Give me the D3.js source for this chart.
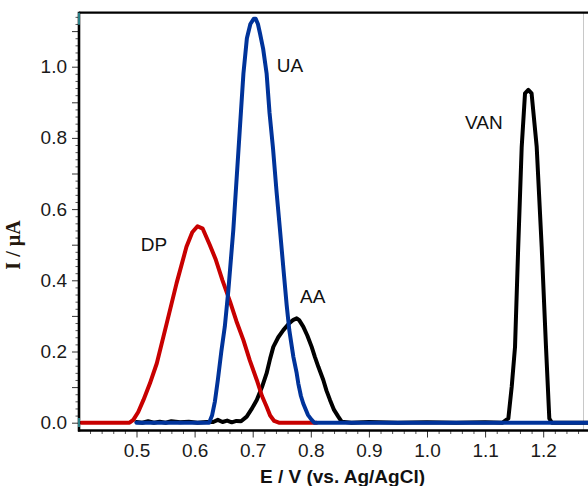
<!DOCTYPE html>
<html>
<head>
<meta charset="utf-8">
<script src="https://cdn.jsdelivr.net/npm/d3@7"></script>
<style>
  html, body { margin: 0; padding: 0; background: #fff; }
  svg { display: block; }
  .tick-label { font-family: "Liberation Sans", Arial, sans-serif; font-size: 19px; fill: #1a1a1a; }
</style>
</head>
<body>
<svg id="chart" width="588" height="486"></svg>
<script>
// Differential pulse voltammograms: potential E (V vs. Ag/AgCl) and current I (µA)

// DP (red)
const dpE = [0.405, 0.45, 0.488, 0.4945, 0.503, 0.512, 0.523, 0.535, 0.552, 0.569, 0.586, 0.596, 0.605, 0.614,
             0.626, 0.636, 0.648, 0.661, 0.672, 0.684, 0.695, 0.707, 0.716, 0.724, 0.730, 0.737, 0.745, 0.780, 0.810];
const dpI = [0.000, 0.000, 0.000, 0.008, 0.030, 0.064, 0.110, 0.167, 0.279, 0.392, 0.494, 0.535, 0.552, 0.545,
             0.500, 0.460, 0.400, 0.340, 0.285, 0.232, 0.175, 0.120, 0.075, 0.045, 0.020, 0.005, 0.000, 0.000, 0.000];

// UA (blue)
const uaE = [0.500, 0.550, 0.600, 0.625, 0.630, 0.635, 0.640, 0.646, 0.652, 0.658, 0.6666, 0.6777, 0.684, 0.690,
             0.696, 0.702, 0.705, 0.709, 0.7125, 0.718, 0.724, 0.729, 0.735, 0.741, 0.747, 0.753, 0.7585, 0.763,
             0.770, 0.7757, 0.7785, 0.783, 0.787, 0.795, 0.8015, 0.806, 0.900, 1.000, 1.100, 1.200, 1.280];
const uaI = [0.000, 0.000, 0.000, 0.000, 0.020, 0.060, 0.120, 0.200, 0.270, 0.370, 0.541, 0.821, 0.980, 1.080,
             1.120, 1.135, 1.135, 1.120, 1.094, 1.050, 0.980, 0.870, 0.770, 0.650, 0.541, 0.430, 0.330, 0.260,
             0.185, 0.139, 0.110, 0.075, 0.054, 0.022, 0.008, 0.000, 0.000, 0.000, 0.000, 0.000, 0.000];

// AA and VAN (black, one scan)
const bkE = [0.500, 0.510, 0.520, 0.530, 0.540, 0.550, 0.560, 0.575, 0.590, 0.605, 0.620, 0.632, 0.640, 0.648,
             0.656, 0.664, 0.672, 0.680, 0.6897, 0.698, 0.707, 0.716, 0.724, 0.730, 0.7355, 0.744, 0.7527, 0.762,
             0.770, 0.7757, 0.780, 0.787, 0.794, 0.8015, 0.807, 0.813, 0.8215, 0.827, 0.833, 0.840, 0.8473, 0.853,
             0.870, 0.900, 0.950, 1.000, 1.050, 1.100, 1.130, 1.140, 1.1458, 1.1515, 1.157, 1.163, 1.1687, 1.1744,
             1.180, 1.1888, 1.1974, 1.2048, 1.2105, 1.215, 1.280];
const bkI = [0.002, 0.000, 0.004, 0.000, 0.003, 0.000, 0.004, 0.001, 0.003, 0.000, 0.002, 0.002, 0.008, 0.002,
             0.006, 0.001, 0.005, 0.004, 0.017, 0.038, 0.064, 0.100, 0.139, 0.180, 0.213, 0.240, 0.260, 0.278,
             0.289, 0.293, 0.288, 0.270, 0.245, 0.213, 0.185, 0.157, 0.120, 0.090, 0.064, 0.036, 0.017, 0.003,
             0.000, 0.002, 0.000, 0.001, 0.000, 0.001, 0.000, 0.012, 0.101, 0.213, 0.494, 0.775, 0.925, 0.935,
             0.925, 0.775, 0.494, 0.213, 0.012, 0.000, 0.000];

// Axis ticks
const xTickLabels = [0.5, 0.6, 0.7, 0.8, 0.9, 1.0, 1.1, 1.2];
const yTickLabels = [0.0, 0.2, 0.4, 0.6, 0.8, 1.0];

// Peak labels, placed in data units (E, I)
const peakNames = ["DP", "UA", "AA", "VAN"];
const peakLabelE = [0.5072, 0.7413, 0.7814, 1.0654];
const peakLabelI = [0.4837, 0.9865, 0.3354, 0.8264];

const svg = d3.select("#chart");

const x = d3.scaleLinear().domain([0.4, 1.28]).range([78.4, 589.68]);
const y = d3.scaleLinear().domain([0, 1]).range([422.7, 66.7]);

const plotLeft = 79, plotTop = 12.7, plotRight = 588, plotBottom = 430.5;

svg.append("defs").append("clipPath").attr("id", "plot-clip")
  .append("rect")
  .attr("x", plotLeft).attr("y", plotTop)
  .attr("width", plotRight - plotLeft).attr("height", plotBottom - plotTop - 1);

// Tick positions
const xMinor = d3.range(0.42, 1.281, 0.02).filter(v => Math.abs(v * 10 - Math.round(v * 10)) > 1e-6);
const xMajor = d3.range(0.5, 1.281, 0.1);
const yMinor = d3.range(0, 1.151, 0.02).filter(v => Math.abs(v * 10 - Math.round(v * 10)) > 1e-6);
const yMajor = d3.range(0, 1.151, 0.1);

// x-axis ticks
svg.append("g")
  .attr("transform", `translate(0,${plotBottom})`)
  .call(d3.axisBottom(x).tickValues(xMinor).tickSize(3.5).tickFormat(""))
  .call(g => g.select(".domain").remove())
  .call(g => g.selectAll(".tick line").attr("stroke", "#555").attr("stroke-width", 1));

svg.append("g")
  .attr("transform", `translate(0,${plotBottom})`)
  .call(d3.axisBottom(x).tickValues(xMajor).tickSize(7).tickFormat(""))
  .call(g => g.select(".domain").remove())
  .call(g => g.selectAll(".tick line").attr("stroke", "#333").attr("stroke-width", 1));

svg.append("g")
  .attr("transform", `translate(0,${plotBottom})`)
  .call(d3.axisBottom(x).tickValues(xTickLabels).tickSize(7).tickPadding(5.8).tickFormat(d3.format(".1f")))
  .call(g => g.select(".domain").remove())
  .call(g => g.selectAll(".tick line").remove())
  .call(g => g.selectAll(".tick text").attr("class", "tick-label").attr("fill", null));

// y-axis ticks
svg.append("g")
  .attr("transform", `translate(${plotLeft},0)`)
  .call(d3.axisLeft(y).tickValues(yMinor).tickSize(3.5).tickFormat(""))
  .call(g => g.select(".domain").remove())
  .call(g => g.selectAll(".tick line").attr("stroke", "#555").attr("stroke-width", 1));

svg.append("g")
  .attr("transform", `translate(${plotLeft},0)`)
  .call(d3.axisLeft(y).tickValues(yMajor).tickSize(7).tickFormat(""))
  .call(g => g.select(".domain").remove())
  .call(g => g.selectAll(".tick line").attr("stroke", "#333").attr("stroke-width", 1));

svg.append("g")
  .attr("transform", `translate(${plotLeft},0)`)
  .call(d3.axisLeft(y).tickValues(yTickLabels).tickSize(7).tickPadding(5).tickFormat(d3.format(".1f")))
  .call(g => g.select(".domain").remove())
  .call(g => g.selectAll(".tick line").remove())
  .call(g => g.selectAll(".tick text").attr("class", "tick-label").attr("fill", null));

// Frame
svg.append("line").attr("x1", 583.5).attr("x2", 583.5).attr("y1", plotTop).attr("y2", plotBottom)
  .attr("stroke", "#c8c8c8").attr("stroke-width", 1);
svg.append("line").attr("x1", plotLeft).attr("x2", plotRight).attr("y1", plotTop).attr("y2", plotTop)
  .attr("stroke", "#000").attr("stroke-width", 2.2);

// Curves
const line = d3.line().curve(d3.curveLinear).x(d => x(d[0])).y(d => y(d[1]));
const curves = [
  { e: bkE, i: bkI, color: "#000000" },
  { e: dpE, i: dpI, color: "#c80000" },
  { e: uaE, i: uaI, color: "#00339a" }
];
svg.append("g").attr("clip-path", "url(#plot-clip)")
  .selectAll("path")
  .data(curves)
  .join("path")
  .attr("d", c => line(d3.zip(c.e, c.i)))
  .attr("fill", "none")
  .attr("stroke", c => c.color)
  .attr("stroke-width", 4)
  .attr("stroke-linejoin", "round")
  .attr("stroke-linecap", "round");

// Axis lines
svg.append("line").attr("x1", plotLeft - 1).attr("x2", plotRight).attr("y1", plotBottom).attr("y2", plotBottom)
  .attr("stroke", "#000").attr("stroke-width", 2.6);
svg.append("line").attr("x1", plotLeft).attr("x2", plotLeft).attr("y1", plotTop - 1).attr("y2", plotBottom + 1)
  .attr("stroke", "#000").attr("stroke-width", 2.6);
svg.append("line").attr("x1", plotLeft).attr("x2", plotLeft).attr("y1", plotTop).attr("y2", plotTop + 12)
  .attr("stroke", "#2a7f86").attr("stroke-width", 2);
svg.append("line").attr("x1", plotLeft).attr("x2", plotLeft).attr("y1", 418).attr("y2", 427)
  .attr("stroke", "#2a7f86").attr("stroke-width", 2);

// Peak labels
svg.append("g")
  .selectAll("text")
  .data(peakNames)
  .join("text")
  .attr("x", (d, k) => x(peakLabelE[k]))
  .attr("y", (d, k) => y(peakLabelI[k]))
  .attr("font-family", "'Liberation Sans', Arial, sans-serif")
  .attr("font-size", 19)
  .attr("fill", "#111")
  .text(d => d);

// Axis titles
svg.append("text")
  .attr("x", 342.5).attr("y", 483)
  .attr("text-anchor", "middle")
  .attr("font-family", "'Liberation Sans', Arial, sans-serif")
  .attr("font-weight", "bold")
  .attr("font-size", 19)
  .attr("fill", "#111")
  .text("E / V (vs. Ag/AgCl)");

svg.append("text")
  .attr("transform", "translate(20,245) rotate(-90)")
  .attr("text-anchor", "middle")
  .attr("font-family", "'Liberation Serif', 'Times New Roman', serif")
  .attr("font-weight", "bold")
  .attr("font-size", 20)
  .attr("fill", "#24180c")
  .text("I / µA");
</script>
</body>
</html>
